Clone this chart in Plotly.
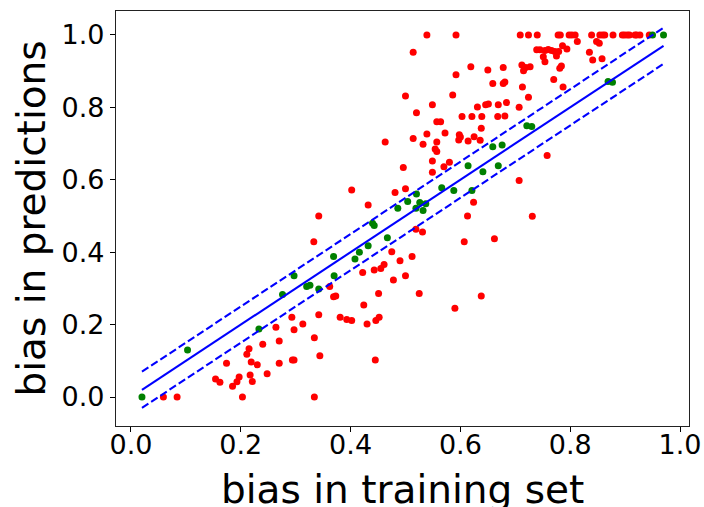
import plotly.graph_objects as go

red_x = [0.539, 0.592, 0.709, 0.724, 0.740, 0.778, 0.782, 0.798, 0.803, 0.809, 0.839, 0.854,
         0.859, 0.863, 0.878, 0.895, 0.899, 0.904, 0.908, 0.918, 0.921, 0.927, 0.944,
         0.514, 0.619, 0.650, 0.592, 0.659, 0.500, 0.586, 0.549, 0.520, 0.631, 0.646, 0.651,
         0.669, 0.603, 0.621, 0.639, 0.668, 0.557, 0.564, 0.638, 0.463, 0.514, 0.539, 0.572,
         0.532, 0.557, 0.598, 0.600, 0.597, 0.625, 0.614, 0.636, 0.554, 0.557,
         0.813, 0.848, 0.853, 0.786, 0.794, 0.739, 0.745, 0.754, 0.760, 0.766, 0.772, 0.779,
         0.751, 0.754, 0.775, 0.835, 0.841, 0.858, 0.712, 0.715, 0.727, 0.719, 0.678, 0.781,
         0.784, 0.770, 0.787, 0.678, 0.681, 0.713, 0.724, 0.684, 0.707, 0.681,
         0.549, 0.570, 0.580, 0.549, 0.496, 0.402, 0.481, 0.500, 0.432, 0.342, 0.624, 0.613,
         0.333, 0.519, 0.531, 0.607, 0.662, 0.475, 0.512, 0.490, 0.461, 0.455, 0.443, 0.422,
         0.478, 0.500, 0.362,
         0.758, 0.707, 0.731,
         0.059, 0.084, 0.203, 0.154, 0.162, 0.174, 0.185, 0.193, 0.197, 0.211, 0.215, 0.219,
         0.230, 0.217, 0.221, 0.240, 0.248, 0.264, 0.270, 0.270, 0.293, 0.297, 0.294, 0.297,
         0.313,
         0.369, 0.373, 0.451, 0.525, 0.638, 0.424, 0.590, 0.342, 0.381, 0.393, 0.402, 0.430,
         0.446, 0.452, 0.334, 0.344, 0.445, 0.334]
red_y = [1.0, 1.0, 1.0, 1.0, 1.0, 1.0, 1.0, 1.0, 1.0, 1.0, 1.0, 1.0,
         1.0, 1.0, 1.0, 1.0, 1.0, 1.0, 1.0, 1.0, 1.0, 1.0, 1.0,
         0.952, 0.912, 0.903, 0.890, 0.866, 0.831, 0.834, 0.807, 0.785, 0.801, 0.807, 0.809,
         0.807, 0.775, 0.775, 0.775, 0.775, 0.760, 0.760, 0.742, 0.704, 0.714, 0.726, 0.729,
         0.698, 0.704, 0.724, 0.718, 0.710, 0.719, 0.707, 0.709, 0.685, 0.678,
         0.982, 0.982, 0.977, 0.970, 0.961, 0.959, 0.959, 0.957, 0.960, 0.957, 0.954, 0.954,
         0.940, 0.926, 0.942, 0.952, 0.931, 0.934, 0.917, 0.901, 0.912, 0.910, 0.910, 0.908,
         0.914, 0.877, 0.856, 0.866, 0.870, 0.856, 0.828, 0.813, 0.800, 0.776,
         0.652, 0.636, 0.648, 0.621, 0.634, 0.572, 0.565, 0.575, 0.530, 0.500, 0.538, 0.500,
         0.429, 0.463, 0.456, 0.429, 0.437, 0.401, 0.388, 0.376, 0.366, 0.355, 0.351, 0.344,
         0.323, 0.335, 0.305,
         0.667, 0.598, 0.499,
         0.0, 0.0, 0.0, 0.050, 0.041, 0.093, 0.030, 0.042, 0.055, 0.118, 0.133, 0.097,
         0.089, 0.061, 0.043, 0.146, 0.064, 0.193, 0.155, 0.093, 0.220, 0.186, 0.102, 0.102,
         0.202,
         0.277, 0.279, 0.286, 0.286, 0.279, 0.254, 0.245, 0.227, 0.220, 0.214, 0.211, 0.202,
         0.211, 0.220, 0.164, 0.114, 0.102, 0.0]

green_x = [0.02, 0.103, 0.233, 0.276, 0.297, 0.320, 0.326, 0.342, 0.369, 0.370, 0.408, 0.416,
           0.432, 0.440, 0.443, 0.467, 0.486, 0.504, 0.519, 0.520, 0.526, 0.532, 0.537, 0.566,
           0.588, 0.614, 0.621, 0.641, 0.659, 0.669, 0.676, 0.721, 0.730, 0.869, 0.877, 0.950,
           0.97]
green_y = [0.0, 0.130, 0.188, 0.283, 0.335, 0.305, 0.309, 0.298, 0.388, 0.335, 0.381, 0.400,
           0.418, 0.480, 0.474, 0.440, 0.521, 0.540, 0.521, 0.561, 0.537, 0.515, 0.534, 0.578,
           0.570, 0.639, 0.570, 0.622, 0.691, 0.639, 0.696, 0.749, 0.747, 0.871, 0.869, 1.0,
           1.0]

line_x = [0.02, 0.97]
band = 0.05

x_ticks = [0.0, 0.2, 0.4, 0.6, 0.8, 1.0]
y_ticks = [0.0, 0.2, 0.4, 0.6, 0.8, 1.0]

x_title = "bias in training set"
y_title = "bias in predictions"

fig = go.Figure()
fig.add_trace(go.Scatter(x=red_x, y=red_y, mode="markers",
                         marker=dict(color="#ff0000", size=7, line=dict(width=0))))
fig.add_trace(go.Scatter(x=green_x, y=green_y, mode="markers",
                         marker=dict(color="#008000", size=7, line=dict(width=0))))
fig.add_trace(go.Scatter(x=line_x, y=line_x, mode="lines",
                         line=dict(color="#0000ff", width=2.1)))
fig.add_trace(go.Scatter(x=line_x, y=[v + band for v in line_x], mode="lines",
                         line=dict(color="#0000ff", width=2.1, dash="7.7px,3.3px")))
fig.add_trace(go.Scatter(x=line_x, y=[v - band for v in line_x], mode="lines",
                         line=dict(color="#0000ff", width=2.1, dash="7.7px,3.3px")))

axis_common = dict(showgrid=False, zeroline=False, showline=True, mirror=True,
                   linecolor="#222222", linewidth=1.1, ticks="outside", ticklen=5,
                   tickwidth=1, tickcolor="black", automargin=False,
                   tickfont=dict(family="DejaVu Sans", size=27, color="black"))

fig.update_layout(
    width=704, height=507,
    margin=dict(l=116, r=15, t=11, b=81),
    paper_bgcolor="white", plot_bgcolor="white",
    showlegend=False,
    xaxis=dict(range=[-0.0273, 1.0164], tickvals=x_ticks,
               ticktext=[f"{v:.1f}" for v in x_ticks], ticklabelstandoff=-10,
               **axis_common),
    yaxis=dict(range=[-0.080, 1.066], tickvals=y_ticks,
               ticktext=[f"{v:.1f}" for v in y_ticks], **axis_common),
    annotations=[
        dict(text=x_title, xref="paper", yref="paper", x=0.5, y=0,
             xanchor="center", yanchor="top", yshift=-39, showarrow=False,
             font=dict(family="DejaVu Sans", size=39, color="black")),
        dict(text=y_title, xref="paper", yref="paper", x=0, y=0.5,
             xanchor="center", yanchor="middle", xshift=-85, textangle=-90,
             showarrow=False,
             font=dict(family="DejaVu Sans", size=39, color="black")),
    ],
)

fig.write_html("out.html", config={"displayModeBar": False},
               post_script="document.body.style.margin='0px';document.body.style.overflow='hidden';")
